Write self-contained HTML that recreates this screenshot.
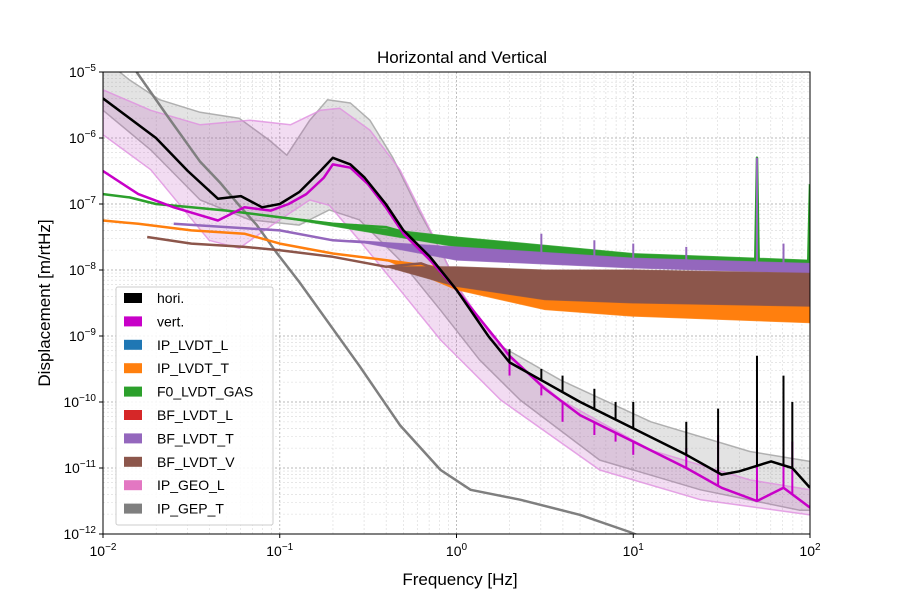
<!DOCTYPE html>
<html><head><meta charset="utf-8"><style>
body{margin:0;background:#fff;width:900px;height:600px;overflow:hidden}
svg{font-family:"Liberation Sans",sans-serif}
</style></head><body>
<svg id="c" width="900" height="600"></svg>
<script>
// ---- data (log10 frequency, log10 displacement) ----
const horiF=[-2,-1.7,-1.52,-1.35,-1.22,-1.1,-1,-0.89,-0.77,-0.7,-0.6,-0.52,-0.4,-0.3,-0.15,0,0.18,0.3,0.5,0.7,1,1.3,1.5,1.6,1.78,1.9,2];
const horiV=[-5.4,-6,-6.5,-6.92,-6.88,-7.05,-7,-6.82,-6.5,-6.3,-6.4,-6.6,-7,-7.4,-7.8,-8.3,-9,-9.4,-9.7,-10,-10.4,-10.8,-11.1,-11.05,-10.9,-11.0,-11.3];
const vertF=[-2,-1.8,-1.6,-1.35,-1.2,-1.05,-0.95,-0.85,-0.75,-0.7,-0.6,-0.5,-0.4,-0.3,-0.15,0,0.3,0.5,0.7,1,1.3,1.5,1.7,1.85,2];
const vertV=[-6.5,-6.85,-7.05,-7.25,-7.05,-7.1,-7.0,-6.85,-6.6,-6.4,-6.45,-6.7,-7.05,-7.45,-7.85,-8.3,-9.3,-9.8,-10.2,-10.6,-11.0,-11.3,-11.5,-11.3,-11.6];
const greenF=[-2,-1.85,-1.7,-1.5,-1.3,-1,-0.7,-0.4,-0.2,0,0.5,1,1.5,1.69,1.7,1.71,1.99,2];
const greenV=[-6.85,-6.9,-7.0,-7.05,-7.1,-7.2,-7.3,-7.35,-7.5,-7.6,-7.7,-7.85,-7.9,-7.9,-6.3,-7.9,-7.9,-6.7];
const orangeF=[-2,-1.8,-1.5,-1.2,-1,-0.7,-0.4,0,0.5,1,1.5,2];
const orangeV=[-7.25,-7.3,-7.4,-7.45,-7.6,-7.75,-7.85,-8.0,-8.15,-8.35,-8.45,-8.5];
const purpleF=[-1.6,-1.3,-1,-0.7,-0.4,0,0.5,1,1.5,2];
const purpleV=[-7.3,-7.35,-7.4,-7.55,-7.6,-7.7,-7.8,-7.9,-7.95,-8.0];
const brownF=[-1.75,-1.5,-1.2,-1,-0.7,-0.4,-0.2,0,0.5,1,1.5,2];
const brownV=[-7.5,-7.6,-7.65,-7.7,-7.8,-7.95,-7.9,-8.1,-8.2,-8.3,-8.3,-8.3];
const grayF=[-1.81,-1.64,-1.45,-1.34,-1.23,-1.13,-1.02,-0.89,-0.55,-0.32,-0.09,0.08,0.36,0.7,0.98,1.1];
const grayV=[-5,-5.65,-6.36,-6.67,-7.02,-7.32,-7.73,-8.18,-9.45,-10.35,-11.03,-11.33,-11.48,-11.71,-11.97,-12.1];
// noise envelopes of the dense high-frequency segments
const orangeNoiseF=[-0.4,0,0.5,1,2];
const orangeNoiseTop=[-7.85,-8.0,-8.1,-8.2,-8.3];
const orangeNoiseBot=[-7.85,-8.3,-8.6,-8.7,-8.8];
const brownNoiseF=[-0.4,0,0.5,1,2];
const brownNoiseTop=[-7.95,-7.95,-8.0,-8.0,-8.05];
const brownNoiseBot=[-7.95,-8.25,-8.45,-8.5,-8.55];
const greenNoiseF=[-1,0,1,2];
const greenNoiseTop=[-7.2,-7.5,-7.75,-7.85];
const greenNoiseBot=[-7.2,-7.65,-7.9,-7.98];
const purpleNoiseF=[-0.6,0,1,2];
const purpleNoiseTop=[-7.55,-7.65,-7.82,-7.9];
const purpleNoiseBot=[-7.55,-7.85,-7.97,-8.05];
const hTopF=[-2,-1.85,-1.68,-1.45,-1.23,-1.06,-0.96,-0.83,-0.73,-0.6,-0.49,-0.36,-0.21,-0.09,0.02,0.19,0.59,1.1,1.66,2];
const hTopV=[-4.8,-5.12,-5.42,-5.61,-5.70,-6.03,-6.26,-5.73,-5.42,-5.47,-5.73,-6.3,-7.12,-7.7,-8.3,-9.06,-9.67,-10.3,-10.75,-10.9];
const hBotF=[-2,-1.73,-1.45,-1.17,-0.89,-0.72,-0.55,-0.32,-0.09,0.13,0.36,0.81,1.38,1.94,2];
const hBotV=[-5.58,-6.18,-6.94,-7.24,-7.32,-7.09,-7.24,-7.85,-8.61,-9.36,-9.97,-10.88,-11.33,-11.64,-11.64];
const vTopF=[-2,-1.73,-1.45,-1.17,-0.94,-0.77,-0.66,-0.49,-0.32,-0.15,0.02,0.25,0.59,1.1,1.66,2];
const vTopV=[-5.27,-5.58,-5.8,-5.73,-5.80,-5.58,-5.55,-5.88,-6.48,-7.39,-8.30,-9.21,-9.97,-10.73,-11.18,-11.33];
const vBotF=[-2,-1.73,-1.4,-1.23,-1.0,-0.83,-0.72,-0.55,-0.32,-0.09,0.25,0.81,1.38,2];
const vBotV=[-5.95,-6.48,-7.55,-7.67,-7.24,-6.94,-7.02,-7.55,-8.30,-9.06,-9.97,-11.03,-11.48,-11.71];
const spikeF=[0.3,0.48,0.6,0.78,0.9,1.0,1.3,1.48,1.7,1.85,1.9];
const horiSpikeV=[-9.2,-9.5,-9.6,-9.8,-10.0,-10.0,-10.3,-10.1,-9.3,-9.6,-10.0];
const vertSpikeV=[-9.6,-9.9,-10.3,-10.5,-10.6,-10.8,-10.7,-10.5,-10.1,-10.3,-10.6];
const purpleSpikeF=[0.48,0.78,1.0,1.3,1.7,1.85];
const purpleSpikeV=[-7.45,-7.55,-7.6,-7.65,-6.3,-7.6];
const xTicks=[-2,-1,0,1,2];
const yTicks=[-5,-6,-7,-8,-9,-10,-11,-12];
const legendNames=["hori.","vert.","IP_LVDT_L","IP_LVDT_T","F0_LVDT_GAS","BF_LVDT_L","BF_LVDT_T","BF_LVDT_V","IP_GEO_L","IP_GEP_T"];
const legendColors=["#000000","#c800c8","#1f77b4","#ff7f0e","#2ca02c","#d62728","#9467bd","#8c564b","#e377c2","#7f7f7f"];

const L=103,R=810,T=72,B=534;
const X=lf=>L+(lf+2)/4*(R-L);
const Y=lv=>T+(-5-lv)/7*(B-T);
const NS="http://www.w3.org/2000/svg";
const svg=document.getElementById('c');
function el(tag,attrs,parent){const e=document.createElementNS(NS,tag);for(const k in attrs)e.setAttribute(k,attrs[k]);(parent||svg).appendChild(e);return e;}
const pts=(F,V)=>F.map((f,i)=>X(f).toFixed(1)+","+Y(V[i]).toFixed(1)).join(" ");

const defs=el('defs',{});
const cp=el('clipPath',{id:'pc'},defs);el('rect',{x:L,y:T,width:R-L,height:B-T},cp);

// grid
const grid=el('g',{});


for(let d=-2;d<2;d++)for(let m=1;m<10;m++){const x=X(d+Math.log10(m));el('line',{x1:x,x2:x,y1:T,y2:B,stroke:m==1?'#b8b8b8':'#d8d8d8','stroke-width':m==1?0.9:0.6,'stroke-dasharray':'2,2'},grid);}
for(let d=-12;d<-5;d++)for(let m=1;m<10;m++){const y=Y(d+Math.log10(m));el('line',{x1:L,x2:R,y1:y,y2:y,stroke:m==1?'#b8b8b8':'#d8d8d8','stroke-width':m==1?0.9:0.6,'stroke-dasharray':'2,2'},grid);}

const plot=el('g',{'clip-path':'url(#pc)'});
function band(name,tf,tv,bf,bv,fill,op,edge,ew){
  const p=el('polygon',{points:pts(tf,tv)+" "+pts(bf.slice().reverse(),bv.slice().reverse()),fill:fill,'fill-opacity':op,stroke:edge,'stroke-opacity':0.8,'stroke-width':ew,'stroke-linejoin':'round'},plot);
  
  
}
band('hori-band',hTopF,hTopV,hBotF,hBotV,'#808080',0.22,'#a0a0a0',1.5);
band('vert-band',vTopF,vTopV,vBotF,vBotV,'#c050c0',0.2,'#e090e0',1.5);
function line(name,F,V,color,w){
  const p=el('polyline',{points:pts(F,V),fill:'none',stroke:color,'stroke-width':w,'stroke-linejoin':'round'},plot);
  
  
}
function spikes(name,F,V,baseF,baseV,color){
  F.forEach((f,i)=>{
    let j=0;while(j<baseF.length-2&&baseF[j+1]<f)j++;
    const t=(f-baseF[j])/(baseF[j+1]-baseF[j]);const b=baseV[j]+t*(baseV[j+1]-baseV[j]);
    const s=el('line',{x1:X(f),x2:X(f),y1:Y(b),y2:Y(V[i]),stroke:color,'stroke-width':2},plot);
    
    
  });
}
line('ip-gep-t-line',grayF,grayV,'#7f7f7f',2.5);
line('ip-lvdt-t-line',orangeF,orangeV,'#ff7f0e',2.5);
band('ip-lvdt-t-noise',orangeNoiseF,orangeNoiseTop,orangeNoiseF,orangeNoiseBot,'#ff7f0e',1,'#ff7f0e',1);
line('f0-lvdt-gas-line',greenF,greenV,'#2ca02c',2.5);
band('f0-lvdt-gas-noise',greenNoiseF,greenNoiseTop,greenNoiseF,greenNoiseBot,'#2ca02c',1,'#2ca02c',1);
line('bf-lvdt-t-line',purpleF,purpleV,'#9467bd',2.5);
band('bf-lvdt-t-noise',purpleNoiseF,purpleNoiseTop,purpleNoiseF,purpleNoiseBot,'#9467bd',1,'#9467bd',1);
spikes('bf-lvdt-t-spike',purpleSpikeF,purpleSpikeV,purpleF,purpleV,'#9467bd');
line('bf-lvdt-v-line',brownF,brownV,'#8c564b',2.5);
band('bf-lvdt-v-noise',brownNoiseF,brownNoiseTop,brownNoiseF,brownNoiseBot,'#8c564b',1,'#8c564b',1);
line('vert-line',vertF,vertV,'#c800c8',2.5);
spikes('vert-spike',spikeF,vertSpikeV,vertF,vertV,'#c800c8');
line('hori-line',horiF,horiV,'#000',2.5);
spikes('hori-spike',spikeF,horiSpikeV,horiF,horiV,'#000');

el('rect',{x:L,y:T,width:R-L,height:B-T,fill:'none',stroke:'#000','stroke-width':1});

// ticks
xTicks.forEach(t=>{const x=X(t);
  el('line',{x1:x,x2:x,y1:B,y2:B+4,stroke:'#000'});
  const tx=el('text',{x:x,y:B+22,'text-anchor':'middle','font-size':14});
  
  
  tx.innerHTML='10<tspan dy="-6" font-size="10">'+(t<0?'\u2212':'')+Math.abs(t)+'</tspan>';
});
yTicks.forEach(t=>{const y=Y(t);
  el('line',{x1:L-4,x2:L,y1:y,y2:y,stroke:'#000'});
  const tx=el('text',{x:L-7,y:y+5,'text-anchor':'end','font-size':14});
  
  
  tx.innerHTML='10<tspan dy="-6" font-size="10">\u2212'+Math.abs(t)+'</tspan>';
});
const title=el('text',{x:462,y:63,'text-anchor':'middle','font-size':17});title.textContent='Horizontal and Vertical';


const xl=el('text',{x:460,y:585,'text-anchor':'middle','font-size':17});xl.textContent='Frequency [Hz]';


const yl=el('text',{x:50,y:303,'text-anchor':'middle','font-size':17,transform:'rotate(-90 50 303)'});yl.textContent='Displacement [m/rtHz]';



// legend
const lg=el('g',{});


el('rect',{x:116,y:287,width:157,height:238,fill:'#fff','fill-opacity':0.85,stroke:'#ccc',rx:2},lg);
legendNames.forEach((n,i)=>{
  const y=298+i*23.4;
  const g=el('g',{},lg);
  
  
  el('rect',{x:124,y:y-5,width:18,height:10,fill:legendColors[i]},g);
  const t=el('text',{x:157,y:y+5,'font-size':14},g);t.textContent=n;
});
</script>
</body></html>
